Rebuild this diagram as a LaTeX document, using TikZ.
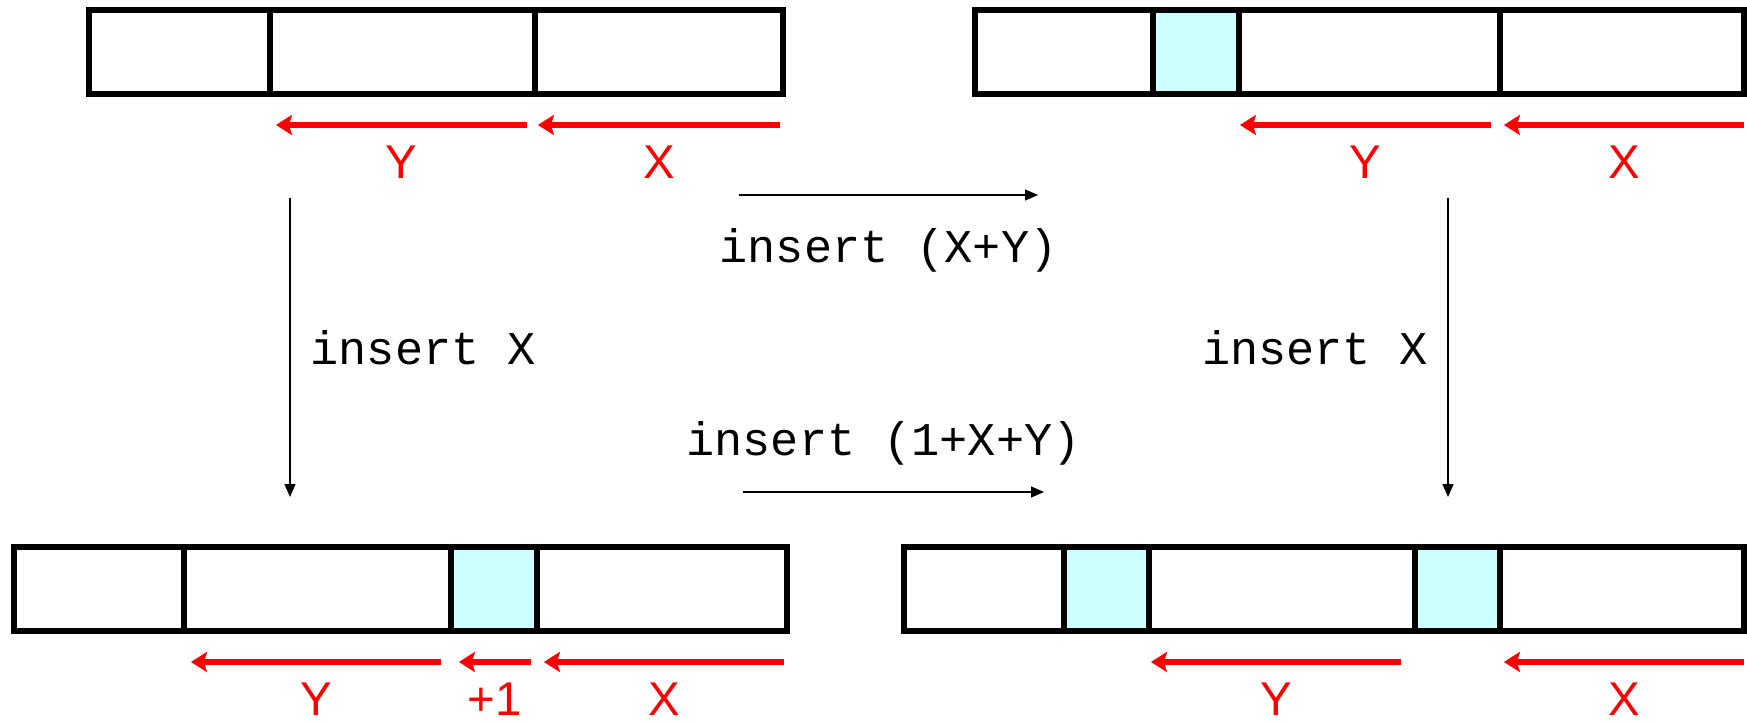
\documentclass[tikz,border=0pt]{standalone}
\usepackage{fontspec}
\setsansfont{Liberation Sans}
\setmonofont{Liberation Mono}
\usetikzlibrary{arrows.meta, positioning}

\definecolor{gapcyan}{HTML}{CCFFFF}

\begin{document}
\begin{tikzpicture}[x=0.02cm, y=-0.02cm,
        cell/.style={draw, line width=3.2pt, minimum height=1.68cm, inner sep=0pt, outer sep=0pt},
        gap/.style={cell, fill=gapcyan},
        dist/.style={red, line width=3.1pt, -{Stealth[length=0.32cm, width=0.4cm, inset=0.06cm]}},
        lbl/.style={text=red, yshift=-0.75cm, inner sep=0pt, font=\fontsize{27}{28}\selectfont\sffamily},
        op/.style={line width=0.8pt, -{Triangle[length=0.26cm, width=0.22cm]}},
        txt/.style={inner sep=0pt, font=\fontsize{26.7}{28}\selectfont\ttfamily}]
        \useasboundingbox (0,0) rectangle (1747,723);
        % original buffer
        \node[cell, minimum width=3.62cm, anchor=north west] (a1) at (89,10) {};
        \node[cell, minimum width=5.30cm, right=0pt of a1] (a2) {};
        \node[cell, minimum width=4.96cm, right=0pt of a2] (a3) {};
        % after insert (X+Y)
        \node[cell, minimum width=3.56cm, anchor=north west] (b1) at (975,10) {};
        \node[gap, minimum width=1.72cm, right=0pt of b1] (b2) {};
        \node[cell, minimum width=5.22cm, right=0pt of b2] (b3) {};
        \node[cell, minimum width=4.88cm, right=0pt of b3] (b4) {};
        % after insert X
        \node[cell, minimum width=3.40cm, anchor=north west] (c1) at (14,547) {};
        \node[cell, minimum width=5.34cm, right=0pt of c1] (c2) {};
        \node[gap, minimum width=1.72cm, right=0pt of c2] (c3) {};
        \node[cell, minimum width=5.00cm, right=0pt of c3] (c4) {};
        % after both inserts
        \node[cell, minimum width=3.20cm, anchor=north west] (d1) at (904,547) {};
        \node[gap, minimum width=1.70cm, right=0pt of d1] (d2) {};
        \node[cell, minimum width=5.32cm, right=0pt of d2] (d3) {};
        \node[gap, minimum width=1.70cm, right=0pt of d3] (d4) {};
        \node[cell, minimum width=4.88cm, right=0pt of d4] (d5) {};

        % distances
        \draw[dist] ([xshift=-0.16cm, yshift=-0.62cm]a2.south east) -- node[lbl] {Y} ([xshift=0.12cm, yshift=-0.62cm]a2.south west);
        \draw[dist] ([xshift=-0.06cm, yshift=-0.62cm]a3.south east) -- node[lbl] {X} ([xshift=0.06cm, yshift=-0.62cm]a3.south west);
        \draw[dist] ([xshift=-0.18cm, yshift=-0.62cm]b3.south east) -- node[lbl] {Y} ([xshift=0.02cm, yshift=-0.62cm]b3.south west);
        \draw[dist] ([yshift=-0.62cm]b4.south east) -- node[lbl] {X} ([xshift=0.08cm, yshift=-0.62cm]b4.south west);
        \draw[dist] ([xshift=-0.2cm, yshift=-0.62cm]c2.south east) -- node[lbl] {Y} ([xshift=0.14cm, yshift=-0.62cm]c2.south west);
        \draw[dist] ([xshift=-0.12cm, yshift=-0.62cm]c3.south east) -- node[lbl] {+1} ([xshift=0.16cm, yshift=-0.62cm]c3.south west);
        \draw[dist] ([xshift=-0.06cm, yshift=-0.62cm]c4.south east) -- node[lbl] {X} ([xshift=0.14cm, yshift=-0.62cm]c4.south west);
        \draw[dist] ([xshift=-0.28cm, yshift=-0.62cm]d3.south east) -- node[lbl] {Y} ([xshift=0.04cm, yshift=-0.62cm]d3.south west);
        \draw[dist] ([yshift=-0.62cm]d5.south east) -- node[lbl] {X} ([xshift=0.08cm, yshift=-0.62cm]d5.south west);

        % operations
        \coordinate (v1s) at (290,198);
        \coordinate (v1e) at (290,497);
        \coordinate (v2s) at (1448,198);
        \coordinate (v2e) at (1448,497);
        \coordinate (h1s) at (739,195);
        \coordinate (h1e) at (1038,195);
        \coordinate (h2s) at (743,492);
        \coordinate (h2e) at (1044,492);
        \draw[op] (v1s) -- node[txt, right=0.4cm] {insert X} (v1e);
        \draw[op] (v2s) -- node[txt, left=0.4cm] {insert X} (v2e);
        \draw[op] (h1s) -- node[txt, yshift=-1.1cm] {insert (X+Y)} (h1e);
        \draw[op] (h2s) -- node[txt, yshift=0.98cm, xshift=-0.2cm] {insert (1+X+Y)} (h2e);
    \end{tikzpicture}
\end{document}
